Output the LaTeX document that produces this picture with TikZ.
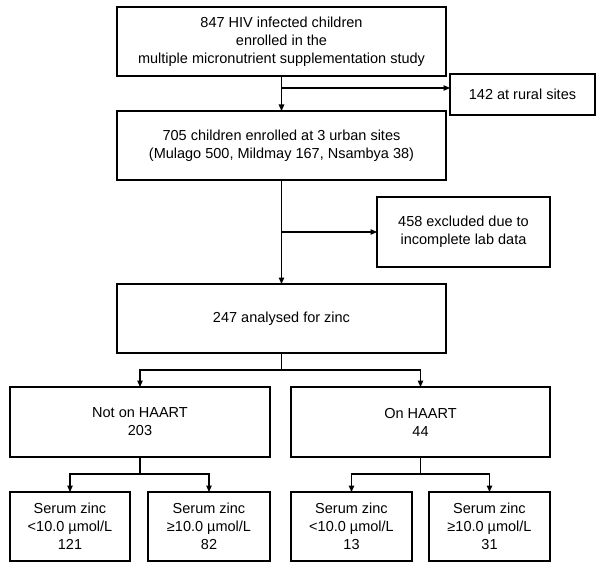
\documentclass[tikz,border=0pt]{standalone}
\usepackage{fontspec}
\setmainfont{Liberation Sans}
\usetikzlibrary{arrows.meta}
\begin{document}
\begin{tikzpicture}[x=1bp,y=-1bp,
  every node/.style={font=\fontsize{14.5bp}{18bp}\selectfont},
  box/.style={draw, line width=1.2bp, rectangle, align=center, inner sep=0pt, outer sep=0pt},
  conn/.style={line width=1.2bp},
  arr/.style={conn, -{Triangle[length=6.5bp,width=5.5bp]}}]
\useasboundingbox (0,0) rectangle (600,569);
\node[box, minimum width=329bp, minimum height=69bp] (b1) at (281.5,41.5)
  {847 HIV infected children\\enrolled in the\\multiple micronutrient supplementation study};
\node[box, minimum width=145bp, minimum height=41bp] (rural) at (522.5,94.5) {142 at rural sites};
\node[box, minimum width=329bp, minimum height=69bp] (b2) at (281.5,145.5)
  {705 children enrolled at 3 urban sites\\(Mulago 500, Mildmay 167, Nsambya 38)};
\node[box, minimum width=173bp, minimum height=70bp] (excl) at (463.5,232)
  {458 excluded due to\\incomplete lab data};
\node[box, minimum width=329bp, minimum height=69bp] (b3) at (281.5,318.5) {247 analysed for zinc};
\node[box, minimum width=260bp, minimum height=70bp] (nh) at (140,422) {Not on HAART\\203};
\node[box, minimum width=259bp, minimum height=70bp] (oh) at (420.5,422) {On HAART\\44};
\node[box, minimum width=120bp, minimum height=69bp] (z1) at (70,526.5) {Serum zinc\\<10.0 µmol/L\\121};
\node[box, minimum width=122bp, minimum height=69bp] (z2) at (209,526.5) {Serum zinc\\≥10.0 µmol/L\\82};
\node[box, minimum width=121bp, minimum height=69bp] (z3) at (351.5,526.5) {Serum zinc\\<10.0 µmol/L\\13};
\node[box, minimum width=121bp, minimum height=69bp] (z4) at (489.5,526.5) {Serum zinc\\≥10.0 µmol/L\\31};
\coordinate (j1) at (281.5,88);
\coordinate (j2) at (281.5,232);
\coordinate (br1) at (281.5,370);
\coordinate (br2) at (140,474);
\coordinate (br3) at (420.5,474);
\draw[arr] (b1) -- (b2);
\draw[arr] (j1) -- (j1 -| rural.west);
\draw[arr] (b2) -- (b3);
\draw[arr] (j2) -- (excl.west);
\draw[conn] (b3.south) -- (br1);
\draw[arr] (br1) -| (nh.north);
\draw[arr] (br1) -| (oh.north);
\draw[conn] (nh.south) -- (br2);
\draw[arr] (br2) -| (z1.north);
\draw[arr] (br2) -| (z2.north);
\draw[conn] (oh.south) -- (br3);
\draw[arr] (br3) -| (z3.north);
\draw[arr] (br3) -| (z4.north);
\end{tikzpicture}
\end{document}
